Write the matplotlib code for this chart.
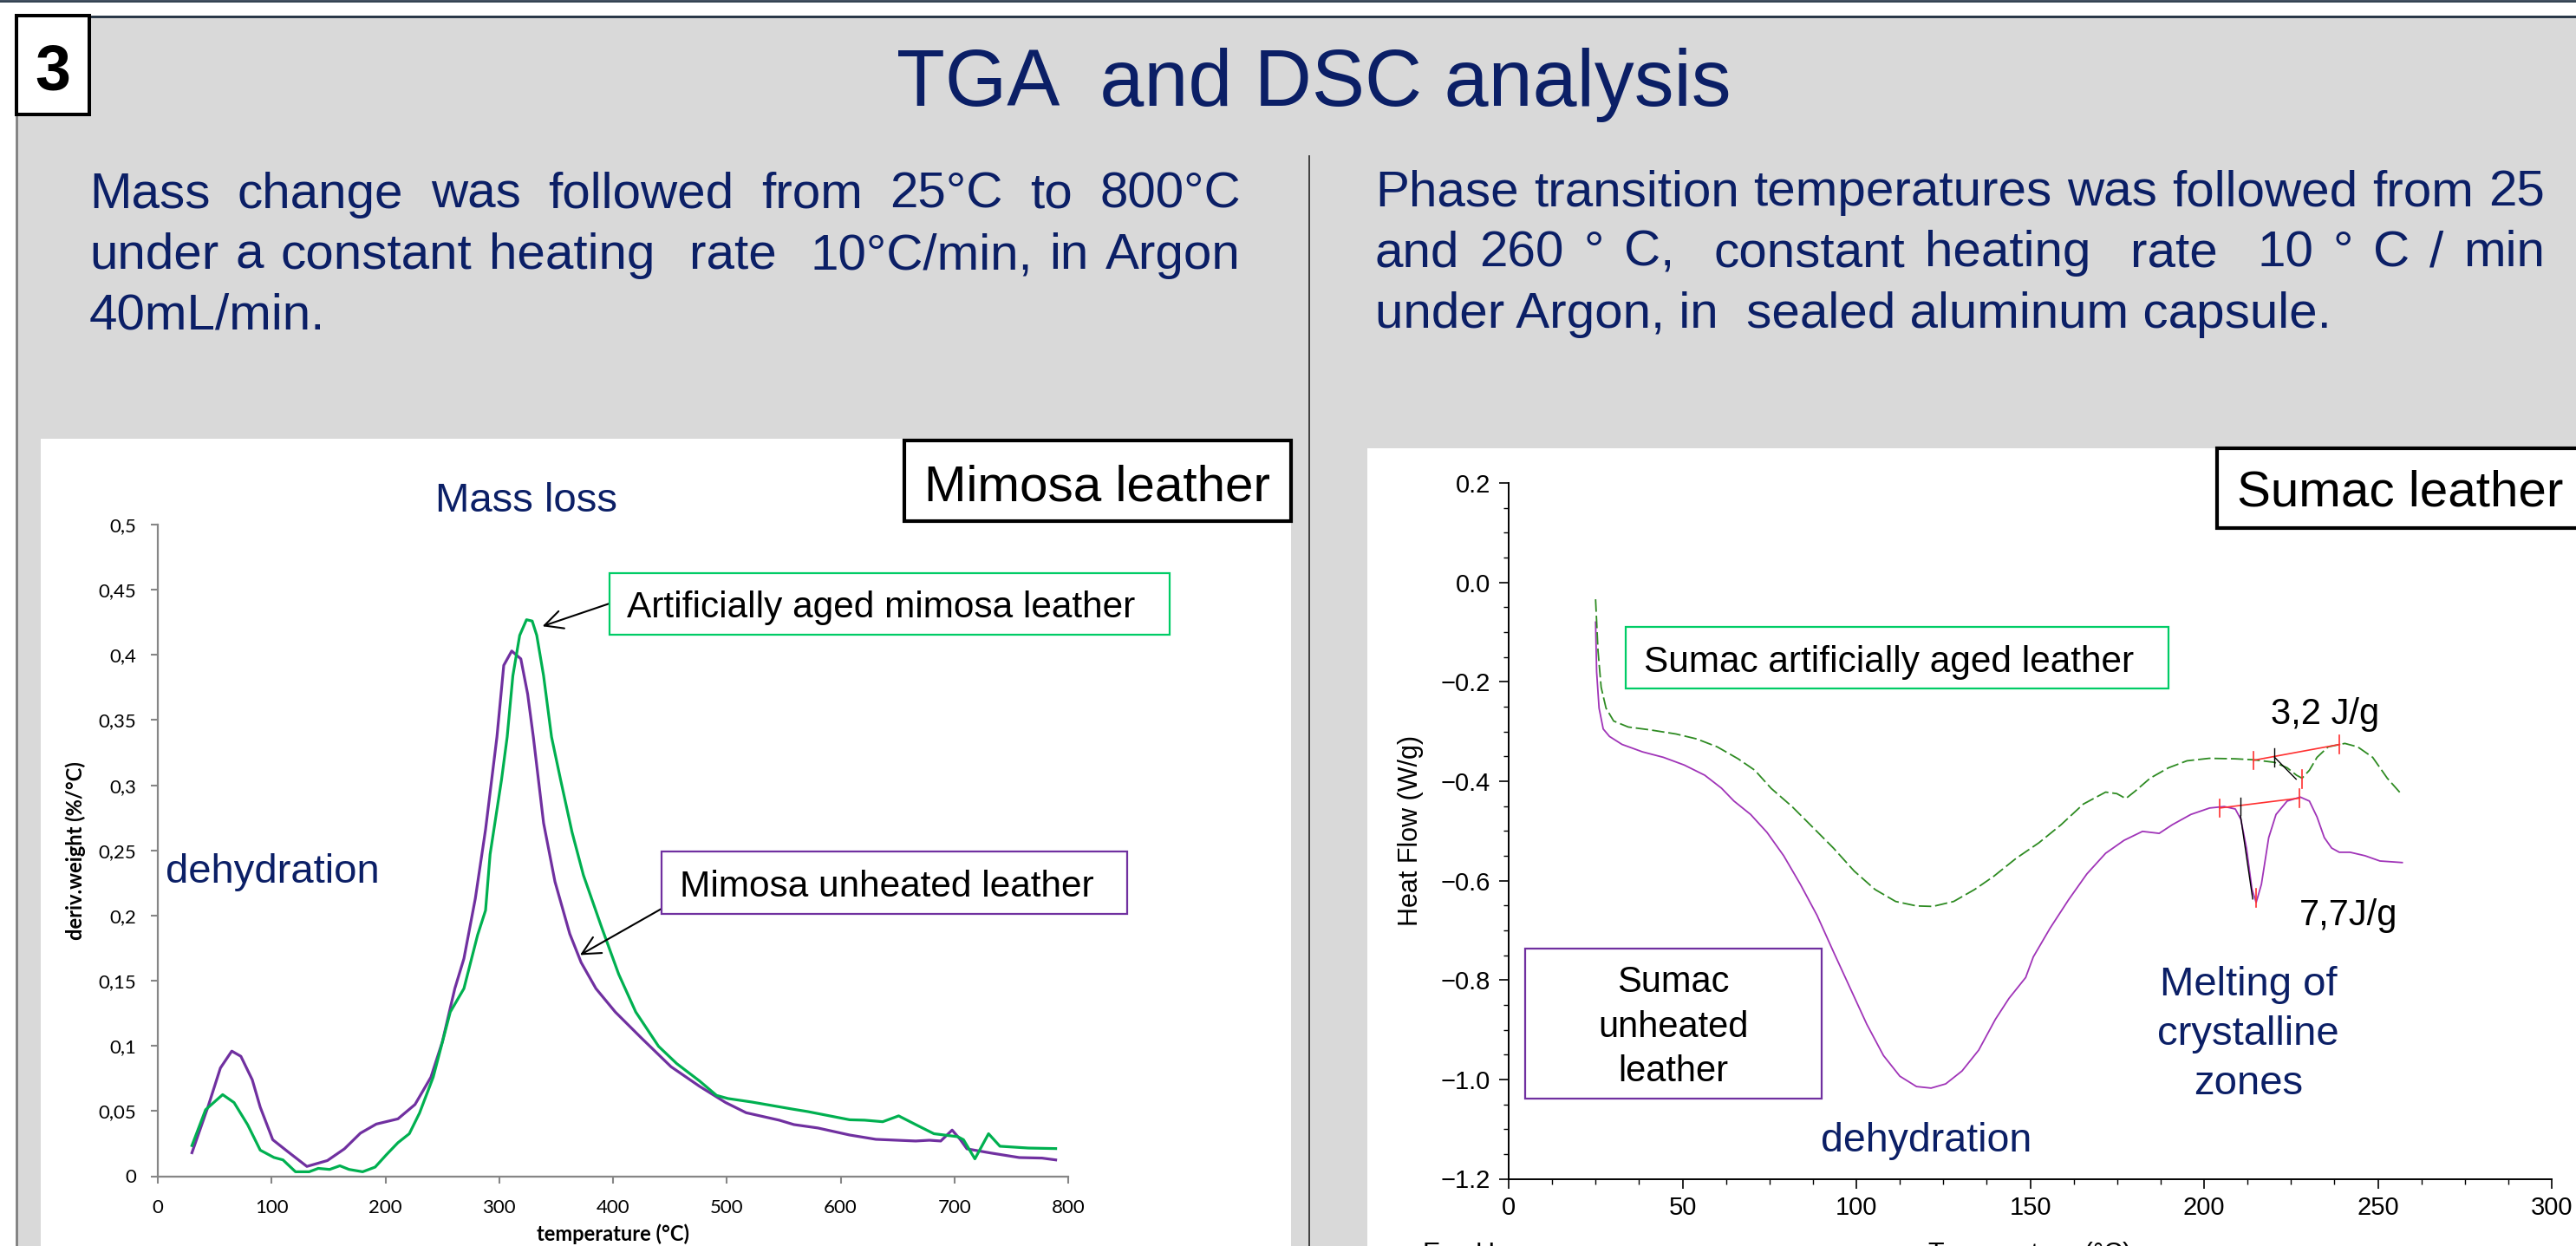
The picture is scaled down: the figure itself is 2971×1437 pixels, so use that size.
import matplotlib
matplotlib.use("Agg")
from matplotlib import pyplot as plt
from matplotlib.patches import Rectangle
from matplotlib.lines import Line2D
from matplotlib.ticker import MultipleLocator

W, H = 2971, 1437
NAVY = "#0B1F66"
ARIAL = "Liberation Sans"
EXCEL = "Lato"
plt.rcParams["font.family"] = [ARIAL, "DejaVu Sans"]

# TGA (derivative of weight), Mimosa leather
tga_x_unheated = [30, 44, 55, 65, 73, 83, 90, 101, 114, 131, 149, 164, 178, 192, 211, 226, 240, 250, 261, 269,
                  279, 288, 298, 304, 311, 319, 325, 330, 339, 349, 362, 372, 385, 402, 425, 451, 476, 499, 517, 546,
                  559, 580, 608, 631, 666, 678, 688, 698, 705, 711, 732, 757, 777, 789]
tga_y_unheated = [0.018, 0.053, 0.083, 0.096, 0.092, 0.074, 0.053, 0.028, 0.019, 0.0075, 0.012, 0.021, 0.033, 0.040,
                  0.044, 0.055, 0.076, 0.103, 0.144, 0.167, 0.213, 0.266, 0.337, 0.392, 0.403, 0.397, 0.370, 0.337,
                  0.271, 0.226, 0.186, 0.164, 0.144, 0.126, 0.106, 0.084, 0.069, 0.0565, 0.0487, 0.043, 0.0396, 0.037,
                  0.0316, 0.0283, 0.027, 0.0276, 0.027, 0.0354, 0.0283, 0.021, 0.0178, 0.0143, 0.0139, 0.0125]
tga_x_aged = [30, 42, 57, 67, 79, 90, 102, 110, 121, 133, 141, 151, 160, 168, 180, 191, 201, 211, 221, 230,
              242, 257, 269, 281, 288, 292, 302, 307, 312, 318, 324, 329, 333, 339, 346, 354, 364, 374, 390, 405,
              420, 440, 456, 476, 491, 501, 522, 559, 571, 608, 621, 637, 651, 666, 682, 703, 708, 718, 730, 740,
              765, 789]
tga_y_aged = [0.0235, 0.051, 0.0626, 0.0565, 0.0394, 0.020, 0.0144, 0.0125, 0.0034, 0.0034, 0.006, 0.0052, 0.008,
              0.0052, 0.0034, 0.007, 0.0166, 0.0257, 0.0326, 0.0485, 0.076, 0.126, 0.144, 0.185, 0.204, 0.247, 0.304,
              0.337, 0.384, 0.415, 0.427, 0.426, 0.415, 0.384, 0.337, 0.304, 0.264, 0.231, 0.191, 0.155, 0.126,
              0.0997, 0.0864, 0.0731, 0.062, 0.0596, 0.0569, 0.0513, 0.0496, 0.0433, 0.043, 0.0418, 0.0463, 0.0396,
              0.0326, 0.0303, 0.028, 0.0133, 0.0326, 0.023, 0.0216, 0.0212]
tga_xticks = [0, 100, 200, 300, 400, 500, 600, 700, 800]
tga_yticks = [0, 0.05, 0.1, 0.15, 0.2, 0.25, 0.3, 0.35, 0.4, 0.45, 0.5]
tga_ylabels = ["0", "0,05", "0,1", "0,15", "0,2", "0,25", "0,3", "0,35", "0,4", "0,45", "0,5"]

# DSC heat flow, Sumac leather
dsc_x_unheated = [25, 25.3, 26, 27.2, 29, 32.6, 38.5, 44.5, 50.5, 56.4, 61.2, 64.8, 69.6, 74.3, 79.1, 83.9, 88.7,
                  93.4, 98.2, 103, 107.8, 112.5, 117.3, 121.5, 125.7, 130.4, 135.2, 140, 143.9, 148.7, 150.9, 155.7,
                  161, 166.3, 171.7, 177, 182.3, 187.1, 190.9, 196.2, 201.6, 205.8, 209, 210.6, 212.2, 213.8, 215,
                  216.5, 218.6, 220.7, 223.9, 227.7, 230.3, 232.5, 234.6, 236.7, 238.9, 242, 246.3, 250.6, 257]
dsc_y_unheated = [-0.08, -0.18, -0.253, -0.295, -0.31, -0.326, -0.341, -0.352, -0.3675, -0.388, -0.414, -0.44,
                  -0.467, -0.503, -0.55, -0.6075, -0.67, -0.743, -0.816, -0.889, -0.952, -0.9935, -1.0144, -1.0175,
                  -1.009, -0.983, -0.941, -0.879, -0.837, -0.795, -0.7535, -0.696, -0.639, -0.5866, -0.545, -0.519,
                  -0.501, -0.505, -0.4875, -0.467, -0.454, -0.451, -0.456, -0.477, -0.5345, -0.618, -0.644, -0.6075,
                  -0.5136, -0.467, -0.44, -0.432, -0.44, -0.472, -0.5136, -0.5345, -0.543, -0.543, -0.55, -0.5606,
                  -0.5637]
dsc_x_aged = [25, 25.7, 26.6, 28, 30.2, 34.4, 40.9, 48.1, 54.1, 60, 66, 70.8, 75.5, 81.5, 87.5, 93.4, 99.4, 105.4,
              111.3, 117.3, 122, 128, 134, 139.4, 146, 152.5, 158.9, 165.3, 171.7, 174.9, 177.5, 180.2, 184.5,
              189.8, 195.1, 201.5, 209, 214.3, 220.2, 223.9, 226.6, 228.2, 230.3, 232.5, 235.7, 240.5, 244.2,
              248.5, 252.7, 257]
dsc_y_aged = [-0.034, -0.138, -0.211, -0.253, -0.279, -0.291, -0.297, -0.305, -0.315, -0.331, -0.355, -0.378,
              -0.4145, -0.451, -0.493, -0.5345, -0.581, -0.618, -0.642, -0.651, -0.652, -0.642, -0.618, -0.592,
              -0.555, -0.524, -0.4875, -0.446, -0.422, -0.425, -0.435, -0.42, -0.394, -0.373, -0.359, -0.354,
              -0.355, -0.357, -0.362, -0.373, -0.388, -0.394, -0.378, -0.352, -0.331, -0.324, -0.331, -0.352,
              -0.394, -0.428]
dsc_yticks = [-1.2, -1.0, -0.8, -0.6, -0.4, -0.2, 0.0, 0.2]
dsc_ylabels = ["\u22121.2", "\u22121.0", "\u22120.8", "\u22120.6", "\u22120.4", "\u22120.2", "0.0", "0.2"]
dsc_xticks = [0, 50, 100, 150, 200, 250, 300]

# peak integration marks: baseline ends, peak marker, onset tangent
aged_base_x, aged_base_y = [214.2, 239.0], [-0.358, -0.326]
aged_peak = (228.3, -0.396)
aged_onset_x, aged_onset_y = [220.3, 226.5], [-0.352, -0.396]
unh_base_x, unh_base_y = [204.5, 227.5], [-0.454, -0.434]
unh_peak = (215.0, -0.635)
unh_onset_x, unh_onset_y = [210.5, 214.0], [-0.47, -0.637]


def fx(x):
    return x / W


def fy(y):
    return 1 - y / H


def rect_px(x0, y0, x1, y1):
    return [fx(x0), fy(y1), (x1 - x0) / W, (y1 - y0) / H]


fig = plt.figure(figsize=(W / 100, H / 100), dpi=100, facecolor="#D9D9D9")
renderer = fig.canvas.get_renderer()


def box(x0, y0, x1, y1, edge, lw, face="white", z=1):
    fig.add_artist(Rectangle((fx(x0), fy(y1)), (x1 - x0) / W, (y1 - y0) / H, transform=fig.transFigure,
                             facecolor=face, edgecolor=edge, linewidth=lw, zorder=z))


def hline(x0, x1, y, color, lw, z=2):
    fig.add_artist(Line2D([fx(x0), fx(x1)], [fy(y), fy(y)], transform=fig.transFigure, color=color, lw=lw, zorder=z))


def vline(x, y0, y1, color, lw, z=2):
    fig.add_artist(Line2D([fx(x), fx(x)], [fy(y0), fy(y1)], transform=fig.transFigure, color=color, lw=lw, zorder=z))


def label(x, y, s, size, color="black", family=ARIAL, ha="left", va="baseline", **kw):
    return fig.text(fx(x), fy(y), s, fontsize=size, color=color, family=family, ha=ha, va=va, zorder=3, **kw)


def justify(line, x0, x1, y, size, color=NAVY):
    # spread words across x0..x1, double spaces count twice
    words, weights, pending = [], [], 0
    for tok in line.split(" "):
        if tok:
            if words:
                weights.append(pending)
            words.append(tok)
            pending = 1
        else:
            pending += 1
    texts = [label(x0, y, w, size, color) for w in words]
    widths = [t.get_window_extent(renderer).width for t in texts]
    unit = (x1 - x0 - sum(widths)) / sum(weights)
    x = x0
    for i, t in enumerate(texts):
        t.set_position((fx(x), fy(y)))
        if i < len(weights):
            x += widths[i] + unit * weights[i]


# slide frame
box(0, 0, W, 18, "none", 0, face="white", z=-6)
box(0, 0, 19, H, "none", 0, face="white", z=-6)
hline(0, W, 1, "#2F3F4F", 2)
hline(19, W, 18.5, "#1F2F3F", 2)
vline(19, 18, H, "#7F7F7F", 2)
vline(1510, 180, H, "#333333", 1.3)

box(19, 18, 103, 132, "black", 2.9, z=2)
label(61, 103, "3", 53, ha="center", fontweight="bold")
label(1515, 122, "TGA  and DSC analysis", 66, NAVY, ha="center")

justify("Mass change was followed from 25°C to 800°C", 103, 1431, 240, 42)
justify("under a constant heating  rate  10°C/min, in Argon", 103, 1431, 310, 42)
label(103, 380, "40mL/min.", 42, NAVY)
justify("Phase transition temperatures was followed from 25", 1586, 2935, 237, 42)
justify("and 260 ° C,  constant heating  rate  10 ° C / min", 1586, 2935, 307, 42)
label(1586, 378, "under Argon, in  sealed aluminum capsule.", 42, NAVY)

# chart areas
box(47, 506, 1489, H + 5, "none", 0, z=-5)
box(1577, 517, W + 5, H + 5, "none", 0, z=-5)

# ---- TGA chart
ax1 = fig.add_axes(rect_px(182, 605, 1232, 1356.5))
ax1.set_facecolor("none")
ax1.plot(tga_x_unheated, tga_y_unheated, color="#7030A0", lw=2.3, solid_joinstyle="round")
ax1.plot(tga_x_aged, tga_y_aged, color="#00B050", lw=2.3, solid_joinstyle="round")
ax1.set_xlim(0, 800)
ax1.set_ylim(0, 0.5)
ax1.set_xticks(tga_xticks)
ax1.set_yticks(tga_yticks, tga_ylabels)
for s in ["top", "right"]:
    ax1.spines[s].set_visible(False)
for s in ["left", "bottom"]:
    ax1.spines[s].set_color("#868686")
    ax1.spines[s].set_linewidth(1.6)
ax1.tick_params(axis="both", direction="out", length=6, width=1.5, color="#868686", labelsize=16)
ax1.tick_params(axis="y", pad=12)
ax1.tick_params(axis="x", pad=13)
for lbl in ax1.get_xticklabels() + ax1.get_yticklabels():
    lbl.set_family(EXCEL)
ax1.set_ylabel("deriv.weight (%/°C)", fontsize=17, fontweight="bold", family=EXCEL, va="center")
ax1.yaxis.set_label_coords(-0.0905, 0.5)
ax1.set_xlabel("temperature (°C)", fontsize=17, fontweight="bold", family=EXCEL, va="baseline")
ax1.xaxis.set_label_coords(0.5, -0.099)
arrow = dict(arrowstyle="->,head_length=0.5,head_width=0.25", color="black", lw=1.5,
             shrinkA=0, shrinkB=0, mutation_scale=30)
ax1.annotate("", xy=(338, 0.422), xytext=(fx(703), fy(696)), textcoords="figure fraction",
             arrowprops=arrow, annotation_clip=False)
ax1.annotate("", xy=(371, 0.1697), xytext=(fx(763), fy(1048)), textcoords="figure fraction",
             arrowprops=arrow, annotation_clip=False)

label(607, 590, "Mass loss", 34, NAVY, ha="center")
box(1043, 508, 1489, 601, "black", 3)
label(1066, 577, "Mimosa leather", 42)
box(703, 661, 1349, 732, "#00CC66", 1.6)
label(723, 712, "Artificially aged mimosa leather", 30.5)
box(763, 982, 1300, 1054, "#7030A0", 1.6)
label(784, 1034, "Mimosa unheated leather", 30.5)
label(191, 1018, "dehydration", 34, NAVY)

# ---- DSC chart
ax2 = fig.add_axes(rect_px(1740, 557, 2943, 1359.5))
ax2.set_facecolor("none")
ax2.plot(dsc_x_unheated, dsc_y_unheated, color="#A034B8", lw=1.3)
ax2.plot(dsc_x_aged, dsc_y_aged, color="#2E8B22", lw=1.3, dashes=(8, 2.5))
ax2.plot(aged_base_x, aged_base_y, color="#FF3030", lw=1.2)
ax2.plot(unh_base_x, unh_base_y, color="#FF3030", lw=1.2)
ax2.plot(aged_onset_x, aged_onset_y, color="black", lw=1.0)
ax2.plot(unh_onset_x, unh_onset_y, color="black", lw=1.0)
half = 0.018
for tx, ty in [(aged_base_x[0], aged_base_y[0]), (aged_base_x[1], aged_base_y[1]), aged_peak,
               (unh_base_x[0], unh_base_y[0]), (unh_base_x[1], unh_base_y[1]), unh_peak]:
    ax2.plot([tx, tx], [ty - half, ty + half], color="#FF3030", lw=1.2)
for tx, ty in [(aged_onset_x[0], aged_onset_y[0]), (unh_onset_x[0], unh_base_y[0] + 0.003)]:
    ax2.plot([tx, tx], [ty - half, ty + half], color="black", lw=1.0)
ax2.set_xlim(0, 300)
ax2.set_ylim(-1.2, 0.2)
ax2.set_xticks(dsc_xticks)
ax2.set_yticks(dsc_yticks, dsc_ylabels)
ax2.xaxis.set_minor_locator(MultipleLocator(12.5))
ax2.yaxis.set_minor_locator(MultipleLocator(0.05))
for s in ["top", "right"]:
    ax2.spines[s].set_visible(False)
for s in ["left", "bottom"]:
    ax2.spines[s].set_linewidth(1.4)
ax2.tick_params(which="major", direction="out", length=8, width=1.2, labelsize=21)
ax2.tick_params(which="minor", direction="out", length=4.5, width=1.0)
ax2.tick_params(axis="y", which="major", pad=7)
ax2.tick_params(axis="x", which="major", pad=6)
ax2.set_ylabel("Heat Flow (W/g)", fontsize=22, va="center")
ax2.yaxis.set_label_coords(-0.094, 0.5)
ax2.set_xlabel("Temperature (°C)", fontsize=22, va="top")
ax2.xaxis.set_label_coords(0.5, -0.0903)
label(1641, 1432, "Exo Up", 22, va="top")

box(2557, 517, 2990, 609, "black", 3)
label(2580, 584, "Sumac leather", 42)
box(1875, 723, 2501, 794, "#00CC66", 1.6)
label(1896, 775, "Sumac artificially aged leather", 30.5)
box(1758.6, 1093.5, 2101, 1267, "#7030A0", 1.6)
for txt, yb in [("Sumac", 1144), ("unheated", 1196), ("leather", 1247)]:
    label(1930, yb, txt, 30, ha="center")
label(2100, 1328, "dehydration", 33.5, NAVY)
for txt, yb in [("Melting of", 1148.5), ("crystalline", 1205), ("zones", 1262)]:
    label(2593, yb, txt, 34, NAVY, ha="center")
label(2619, 835, "3,2 J/g", 30)
label(2652, 1067, "7,7J/g", 30)

fig.savefig("out.png", dpi=100, facecolor=fig.get_facecolor())
